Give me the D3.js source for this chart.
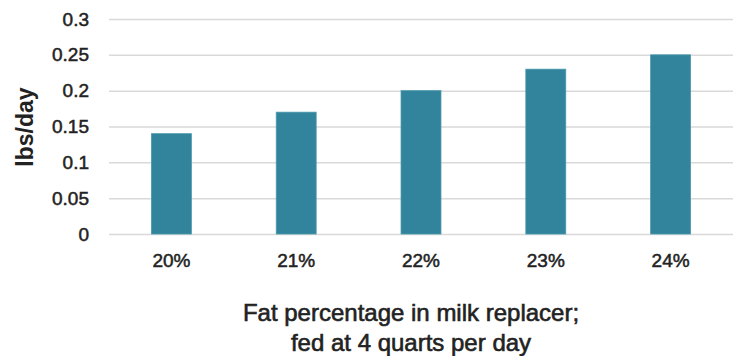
<!DOCTYPE html>
<html><head><meta charset="utf-8">
<script src="https://cdn.jsdelivr.net/npm/d3@7"></script>
<style>body{margin:0;background:#fff}svg{display:block}</style>
</head><body>
<script>
const categories = ["20%","21%","22%","23%","24%"];
const values = [0.14,0.17,0.20,0.23,0.25];
const yTicks = [0,0.05,0.1,0.15,0.2,0.25,0.3];
const yTickLabels = ["0","0.05","0.1","0.15","0.2","0.25","0.3"];
const yTitle = "lbs/day";
const xTitleLines = ["Fat percentage in milk replacer;","fed at 4 quarts per day"];

const W=738,H=356;
const m={left:109,right:5,top:19,bottom:122};
const svg=d3.select("body").append("svg").attr("width",W).attr("height",H);
const x=d3.scaleBand().domain(categories).range([m.left,W-m.right]).paddingInner(0.68).paddingOuter(0.34);
const y=d3.scaleLinear().domain([0,0.3]).range([H-m.bottom,m.top]);
const font="'Liberation Sans', Arial, sans-serif";
const tc="#222";

const yAxis=d3.axisLeft(y).tickValues(yTicks).tickFormat((d,i)=>yTickLabels[i]).tickSize(-(W-m.right-m.left)).tickPadding(20);
const gy=svg.append("g").attr("transform",`translate(${m.left},0)`).call(yAxis);
gy.select(".domain").remove();
gy.selectAll(".tick line").attr("stroke","#d9d9d9").attr("stroke-width",1.5);
gy.selectAll(".tick text").attr("font-family",font).attr("font-size",19).attr("fill",tc)
  .attr("stroke",tc).attr("stroke-width",0.5);

svg.append("g").selectAll("rect").data(values).join("rect")
  .attr("x",(d,i)=>x(categories[i])).attr("width",x.bandwidth())
  .attr("y",d=>y(d)).attr("height",d=>y(0)-y(d))
  .attr("fill","#31849b").attr("stroke","#4a98ad").attr("stroke-width",0.8);

const xAxis=d3.axisBottom(x).tickSize(0).tickPadding(20);
const gx=svg.append("g").attr("transform",`translate(0,${y(0)})`).call(xAxis);
gx.select(".domain").remove();
gx.selectAll(".tick text").attr("font-family",font).attr("font-size",19).attr("fill",tc)
  .attr("stroke",tc).attr("stroke-width",0.5);

svg.append("text").attr("transform",`translate(33,127) rotate(-90)`).attr("text-anchor","middle")
  .attr("font-family",font).attr("font-weight","bold").attr("font-size",23).attr("fill",tc).text(yTitle);

svg.append("g").selectAll("text").data(xTitleLines).join("text")
  .attr("x",(m.left+W-m.right)/2+(-10)).attr("y",(d,i)=>321+i*30).attr("text-anchor","middle")
  .attr("font-family",font).attr("font-size",24).attr("fill",tc)
  .attr("stroke",tc).attr("stroke-width",0.6).text(d=>d);
</script>
</body></html>
